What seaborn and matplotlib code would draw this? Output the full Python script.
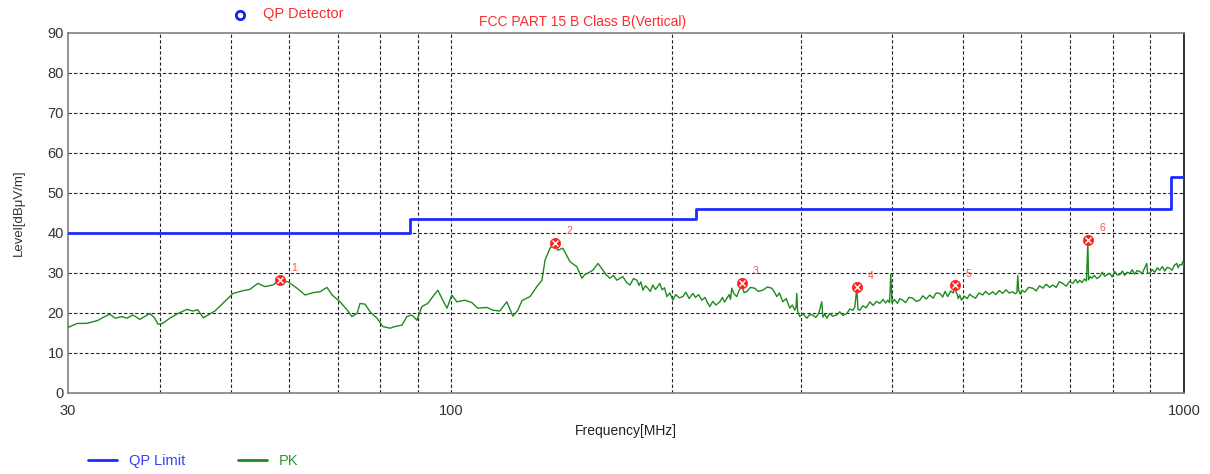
import matplotlib
matplotlib.use("Agg")
import matplotlib.pyplot as plt
import seaborn as sns
import pandas as pd
from matplotlib.ticker import FixedLocator, NullFormatter
from matplotlib.lines import Line2D

# ---------------- data ----------------
limit_freq = [30, 88, 216, 960, 1000]
limit_level = [40, 43.5, 46, 54, 54]

pk_freq = [
    30.0, 30.9, 31.8, 32.9, 33.5, 34.2, 34.8, 35.5, 36.1, 36.8, 37.6, 38.8, 39.4, 39.8,
    40.4, 41.3, 42.4, 43.6, 44.4, 45.1, 45.9, 46.6, 47.6, 48.8, 49.9, 50.4, 51.8, 53.1,
    54.5, 55.7, 57.1, 58.4, 59.9, 61.6, 63.2, 64.8, 66.2, 67.7, 68.8, 70.5, 72.1, 73.2,
    74.4, 75.1, 76.3, 77.5, 79.2, 80.7, 82.5, 83.8, 85.7, 87.0, 88.4, 89.8, 91.2, 92.9,
    94.4, 95.9, 97.4, 98.7, 100.2, 101.8, 104.4, 106.7, 108.7, 111.9, 114.0, 116.5,
    119.1, 121.4, 123.3, 124.9, 128.1, 130.9, 133.0, 134.3, 136.4, 138.5, 139.8, 142.0,
    145.2, 146.8, 148.4, 150.8, 152.2, 153.7, 156.1, 158.6, 161.1, 162.8, 164.7, 166.5,
    168.3, 171.5, 173.5, 175.4, 177.3, 179.2, 180.5, 181.5, 182.7, 184.0, 185.5, 187.0,
    188.4, 190.0, 191.3, 192.6, 194.0, 195.5, 196.9, 198.8, 200.7, 202.5, 204.8, 207.1,
    209.0, 211.2, 213.7, 215.5, 217.6, 219.8, 222.0, 223.7, 225.4, 227.5, 229.8, 232.6,
    234.5, 236.0, 237.8, 239.5, 240.5, 241.5, 243.2, 245.3, 247.0, 249.2, 251.0, 253.1,
    256.0, 259.5, 262.5, 266.2, 270.0, 273.8, 276.0, 278.2, 280.5, 283.5, 286.5, 289.8,
    292.0, 294.4, 295.5, 296.2, 297.0, 299.0, 302.0, 305.7, 308.5, 311.5, 314.5, 317.5,
    320.4, 321.5, 323.5, 325.5, 328.5, 331.5, 335.9, 339.0, 342.5, 346.7, 350.0, 353.2,
    355.5, 357.7, 359.0, 361.1, 364.5, 368.5, 372.6, 376.5, 380.5, 384.5, 388.5, 391.5,
    394.3, 396.5, 398.0, 399.5, 402.5, 406.5, 409.5, 413.3, 417.0, 421.5, 426.6, 431.0,
    436.0, 440.0, 445.0, 449.9, 454.5, 459.0, 464.2, 468.5, 472.0, 476.0, 480.5, 484.5,
    486.6, 488.5, 490.0, 492.0, 494.3, 497.0, 501.5, 506.0, 510.0, 514.9, 519.5, 525.0,
    531.3, 536.0, 542.0, 548.3, 553.5, 559.5, 565.8, 571.5, 577.5, 583.9, 588.5, 591.5,
    593.1, 595.0, 598.0, 600.6, 606.5, 613.5, 622.0, 628.5, 635.0, 641.9, 648.5, 655.5,
    662.3, 669.0, 676.0, 683.4, 690.5, 698.0, 705.2, 711.5, 716.0, 720.8, 726.0, 731.5,
    736.0, 739.2, 741.0, 744.5, 748.6, 754.5, 760.5, 767.4, 773.5, 779.5, 786.0, 792.0,
    798.0, 804.5, 810.5, 817.3, 824.0, 830.0, 836.5, 843.4, 850.0, 856.5, 863.0, 870.2,
    876.5, 882.5, 889.5, 892.0, 898.0, 905.0, 912.5, 919.5, 926.7, 934.5, 941.5, 948.5,
    956.2, 963.5, 970.0, 977.5, 981.5, 986.5, 992.9, 996.5, 1000.0,
]
pk_level = [
    16.4, 17.4, 17.4, 18.1, 18.9, 19.7, 18.7, 19.1, 18.7, 19.5, 18.4, 19.9, 18.7, 17.2,
    17.4, 18.7, 19.9, 20.9, 20.5, 20.8, 18.8, 19.5, 20.5, 22.4, 24.1, 24.9, 25.5, 25.9,
    27.4, 26.6, 27.0, 28.2, 27.8, 26.2, 24.5, 25.1, 25.3, 26.4, 24.5, 22.8, 20.8, 19.1,
    19.9, 22.4, 22.2, 20.3, 18.7, 16.6, 16.2, 16.6, 17.0, 19.1, 19.5, 18.2, 21.6, 22.4,
    24.1, 25.7, 23.2, 21.2, 24.5, 22.8, 23.2, 22.6, 21.2, 21.4, 20.7, 20.5,
    22.8, 19.2, 20.7, 23.1, 24.1, 26.6, 28.2, 33.2, 36.2, 37.4, 35.7, 36.2,
    32.9, 32.2, 31.6, 28.7, 29.6, 30.0, 30.7, 32.4, 30.7, 29.5, 28.7, 29.4,
    28.2, 29.1, 27.6, 27.0, 28.6, 28.2, 26.9, 27.8, 25.7, 26.8, 26.2, 25.4,
    27.0, 25.9, 26.6, 27.4, 25.8, 26.3, 24.1, 25.0, 23.2, 24.6, 23.8, 24.1,
    25.2, 23.6, 24.9, 23.9, 24.6, 23.2, 23.9, 22.6, 21.6, 22.9, 22.0, 22.8,
    23.9, 22.7, 23.7, 24.6, 23.4, 26.2, 24.8, 24.1, 25.6, 26.8, 25.1, 25.3,
    26.4, 26.2, 25.4, 25.7, 26.5, 26.2, 25.3, 24.1, 25.0, 22.8, 23.6, 21.2,
    22.0, 20.7, 21.4, 24.9, 20.5, 19.1, 19.8, 18.7, 19.6, 19.5, 18.9, 20.0,
    22.8, 19.0, 19.7, 18.7, 19.9, 19.2, 19.5, 20.3, 19.4, 19.9, 21.0, 20.7,
    21.5, 26.2, 20.9, 20.7, 21.8, 21.3, 22.8, 21.9, 22.9, 22.4, 23.4, 22.5,
    23.2, 22.6, 29.7, 22.5, 23.4, 22.4, 23.6, 23.2, 22.6, 23.9, 23.7, 22.9,
    23.2, 24.3, 23.5, 24.5, 23.7, 25.0, 24.9, 24.0, 25.4, 24.1, 25.5, 25.0,
    27.0, 25.2, 24.8, 23.6, 24.5, 23.2, 24.2, 23.6, 24.7, 24.1, 23.7, 25.0,
    24.5, 25.4, 24.6, 25.3, 24.6, 25.6, 24.9, 25.8, 25.0, 25.3, 24.8, 25.1,
    29.4, 25.5, 24.7, 25.7, 25.2, 26.4, 26.2, 25.5, 26.8, 26.2, 27.2, 26.4,
    27.0, 26.4, 27.8, 27.4, 26.7, 27.9, 27.4, 28.4, 27.5, 28.2, 27.6, 28.5,
    28.0, 37.4, 28.3, 29.1, 28.7, 29.4, 28.6, 29.1, 30.2, 29.2, 29.6, 29.9,
    29.0, 30.4, 29.5, 29.6, 30.5, 29.4, 30.2, 29.9, 30.8, 29.7, 30.6, 30.4,
    29.8, 31.0, 32.4, 30.0, 29.9, 30.9, 30.2, 31.3, 30.7, 31.6, 30.5, 31.4,
    31.2, 30.7, 31.9, 32.4, 31.3, 32.1, 32.0, 32.9, 31.5,
]

marker_id = ["1", "2", "3", "4", "5", "6"]
marker_freq = [58.4, 138.5, 249.2, 357.7, 486.6, 740.0]
marker_level = [28.3, 37.6, 27.6, 26.4, 27.0, 38.3]

x_ticks = [30, 100, 1000]
x_tick_labels = ["30", "100", "1000"]
x_grid = [40, 50, 60, 70, 80, 90, 100, 200, 300, 400, 500, 600, 700, 800, 900]
y_ticks = [0, 10, 20, 30, 40, 50, 60, 70, 80, 90]

# ---------------- figure ----------------
sns.set_style("white")
plt.rcParams["font.family"] = ["Liberation Sans", "DejaVu Sans"]

fig = plt.figure(figsize=(12.1, 4.74), dpi=100)
ax = fig.add_axes([68 / 1210, 1 - 393 / 474, (1184 - 68) / 1210, (393 - 33) / 474])

lim_df = pd.DataFrame({"freq": limit_freq, "level": limit_level})
pk_df = pd.DataFrame({"freq": pk_freq, "level": pk_level})

sns.lineplot(data=lim_df, x="freq", y="level", ax=ax, color="#1f2bff", lw=2.0,
             drawstyle="steps-post", estimator=None, sort=False, zorder=4)
sns.lineplot(data=pk_df, x="freq", y="level", ax=ax, color="#1f8a1f", lw=1.0,
             estimator=None, sort=False, zorder=3)

mk_df = pd.DataFrame({"freq": marker_freq, "level": marker_level})
sns.scatterplot(data=mk_df, x="freq", y="level", ax=ax, marker="o", s=55,
                color="#ff2020", edgecolor="#ff2020", linewidth=0.5, zorder=6)
sns.scatterplot(data=mk_df, x="freq", y="level", ax=ax, marker="x", s=18,
                color="white", linewidth=1.0, zorder=7)
for t, f, l in zip(marker_id, marker_freq, marker_level):
    ax.annotate(t, (f, l), xytext=(8, 6), textcoords="offset points",
                color="#ff5050", fontsize=7.5, zorder=8)

ax.set_xscale("log")
ax.set_xlim(30, 1000)
ax.set_ylim(0, 90)
ax.xaxis.set_major_locator(FixedLocator(x_ticks))
ax.set_xticklabels(x_tick_labels)
ax.xaxis.set_minor_locator(FixedLocator(x_grid))
ax.xaxis.set_minor_formatter(NullFormatter())
ax.set_yticks(y_ticks)
ax.tick_params(axis="both", which="both", length=0, labelsize=10.5, colors="#333333")
ax.tick_params(axis="x", pad=8)
ax.tick_params(axis="y", pad=3)

ax.grid(False)
for gx in x_grid:
    ax.axvline(gx, color="#222222", lw=0.8, ls=(0, (3, 2)), zorder=1)
for gy in y_ticks[1:-1]:
    ax.axhline(gy, color="#222222", lw=0.8, ls=(0, (3, 2)), zorder=1)

for side in ["left", "bottom", "top"]:
    ax.spines[side].set_color("#808080")
    ax.spines[side].set_linewidth(1.2)
ax.spines["right"].set_color("#111111")
ax.spines["right"].set_linewidth(1.2)

ax.set_xlabel("Frequency[MHz]", fontsize=10, color="#222222", labelpad=4)
ax.set_ylabel("Level[dBμV/m]", fontsize=9.5, color="#333333", labelpad=16)

fig.text(583 / 1210, 1 - 22 / 474, "FCC PART 15 B Class B(Vertical)", color="#ff2a2a",
         fontsize=10, ha="center", va="center")
fig.add_artist(Line2D([240 / 1210], [1 - 15 / 474], transform=fig.transFigure,
                      marker="o", ms=6, mfc="none", mec="#1a1aff", mew=2.0, ls="none"))
fig.text(263 / 1210, 1 - 14 / 474, "QP Detector", color="#ff2a2a", fontsize=10.5,
         ha="left", va="center")

# bottom legend
handles = [Line2D([], [], color="#1f2bff", lw=2), Line2D([], [], color="#1f8a1f", lw=2)]
leg = fig.legend(handles, ["QP Limit", "PK"], loc="center left",
                 bbox_to_anchor=(88 / 1210, 1 - 461 / 474), ncol=2, frameon=False,
                 fontsize=10.5, handlelength=2.0, columnspacing=3.6, handletextpad=0.8,
                 borderpad=0, borderaxespad=0)
leg.get_texts()[0].set_color("#3a3aff")
leg.get_texts()[1].set_color("#2a9a2a")

fig.savefig("out.png", dpi=100)
